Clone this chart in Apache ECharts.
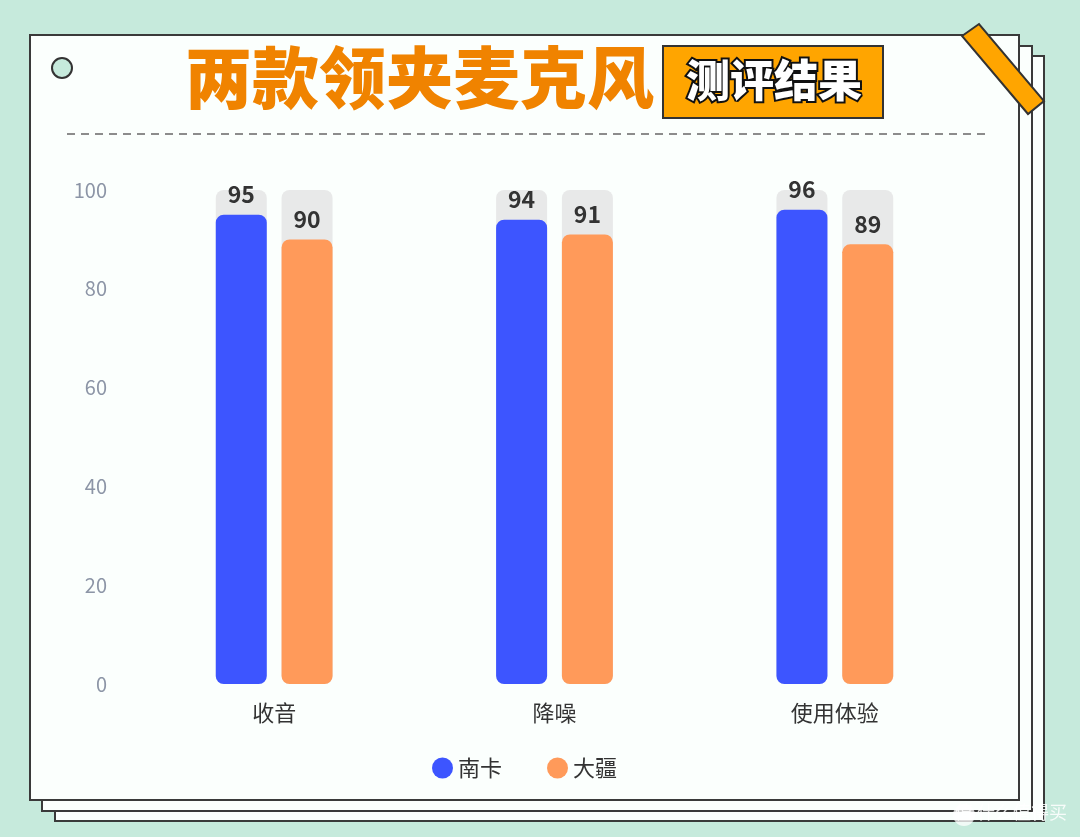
<!DOCTYPE html>
<html><head><meta charset="utf-8">
<script src="https://cdn.jsdelivr.net/npm/echarts@6/dist/echarts.min.js"></script>
<style>html,body{margin:0;padding:0;background:#C6EADC}#c{width:1080px;height:837px}</style>
</head><body><div id="c"></div>
<script>
const categories = ['收音', '降噪', '使用体验'];
const seriesNames = ['南卡', '大疆'];
const nankaValues = [95, 94, 96];
const djiValues = [90, 91, 89];
const yTicks = [0, 20, 40, 60, 80, 100];

const chart = echarts.init(document.getElementById('c'));
const font = '"Noto Sans CJK SC", "Noto Sans", sans-serif';
const paper = (x, y, w, h, z) => ({type:'rect', shape:{x, y, width:w, height:h}, style:{fill:'#FBFFFD', stroke:'#3A3A3A', lineWidth:2}, z});
chart.setOption({
  backgroundColor: '#C6EADC',
  textStyle: {fontFamily: font},
  graphic: [
    paper(55, 56, 989, 765, -6),
    paper(42, 46, 990, 765, -5),
    paper(30, 35, 989, 765, -4),
    {type:'circle', shape:{cx:62, cy:68, r:10}, style:{fill:'#C6EADC', stroke:'#333', lineWidth:2}, z:-3},
    {type:'line', shape:{x1:67, y1:134, x2:986, y2:134}, style:{stroke:'#8C8C8C', lineWidth:2, lineDash:[8,6]}, z:-3},
    {type:'text', left:185, top:44, style:{text:'两款领夹麦克风', fill:'#F08300', font:'900 67px ' + font}, z:-3},
    {type:'rect', shape:{x:663, y:46, width:220, height:72}, style:{fill:'#FFA500', stroke:'#333', lineWidth:2}, z:-3},
    {type:'text', left:684, top:56, style:{text:'测评结果', fill:'#fff', stroke:'#111', lineWidth:4, font:'900 44px ' + font}, z:-2},
    {type:'polygon', shape:{points:[[962,36],[979,24],[1044,101],[1028,114]]}, style:{fill:'#FFA500', stroke:'#333', lineWidth:2}, z:-1},
    {type:'circle', shape:{cx:964, cy:815, r:11}, style:{fill:'rgba(255,255,255,0.75)'}, z:-1},
    {type:'text', left:955, top:803, style:{text:'值 什么值得买', fill:'rgba(255,255,255,0.85)', font:'18px ' + font}, z:-1}
  ],
  grid: {left: 134, right: 105, top: 190, bottom: 153, containLabel: false},
  legend: {
    data: seriesNames, bottom: 53, left: 427, icon: 'circle', itemWidth: 21, itemHeight: 21, itemGap: 45,
    textStyle: {fontSize: 22, color: '#333', fontFamily: font}
  },
  xAxis: {
    type: 'category', data: categories,
    axisLine: {show: false}, axisTick: {show: false},
    axisLabel: {fontSize: 22, color: '#333', margin: 18, fontFamily: font}
  },
  yAxis: {
    type: 'value', min: 0, max: 100, interval: 20,
    axisLine: {show: false}, axisTick: {show: false}, splitLine: {show: false},
    axisLabel: {fontSize: 20, color: '#8C95A6', margin: 27, fontFamily: font,
      formatter: v => yTicks.includes(v) ? String(v) : ''}
  },
  series: [
    {name: seriesNames[0], type: 'bar', data: nankaValues, barWidth: 51, barGap: '29%',
     itemStyle: {color: '#3D55FF', borderRadius: 8},
     showBackground: true, backgroundStyle: {color: '#E8E9E9', borderRadius: 8},
     label: {show: true, position: 'top', distance: 9, fontSize: 23, fontWeight: 'bold', color: '#333', fontFamily: font}},
    {name: seriesNames[1], type: 'bar', data: djiValues, barWidth: 51,
     itemStyle: {color: '#FF9A5A', borderRadius: 8},
     showBackground: true, backgroundStyle: {color: '#E8E9E9', borderRadius: 8},
     label: {show: true, position: 'top', distance: 9, fontSize: 23, fontWeight: 'bold', color: '#333', fontFamily: font}}
  ]
});
</script></body></html>
